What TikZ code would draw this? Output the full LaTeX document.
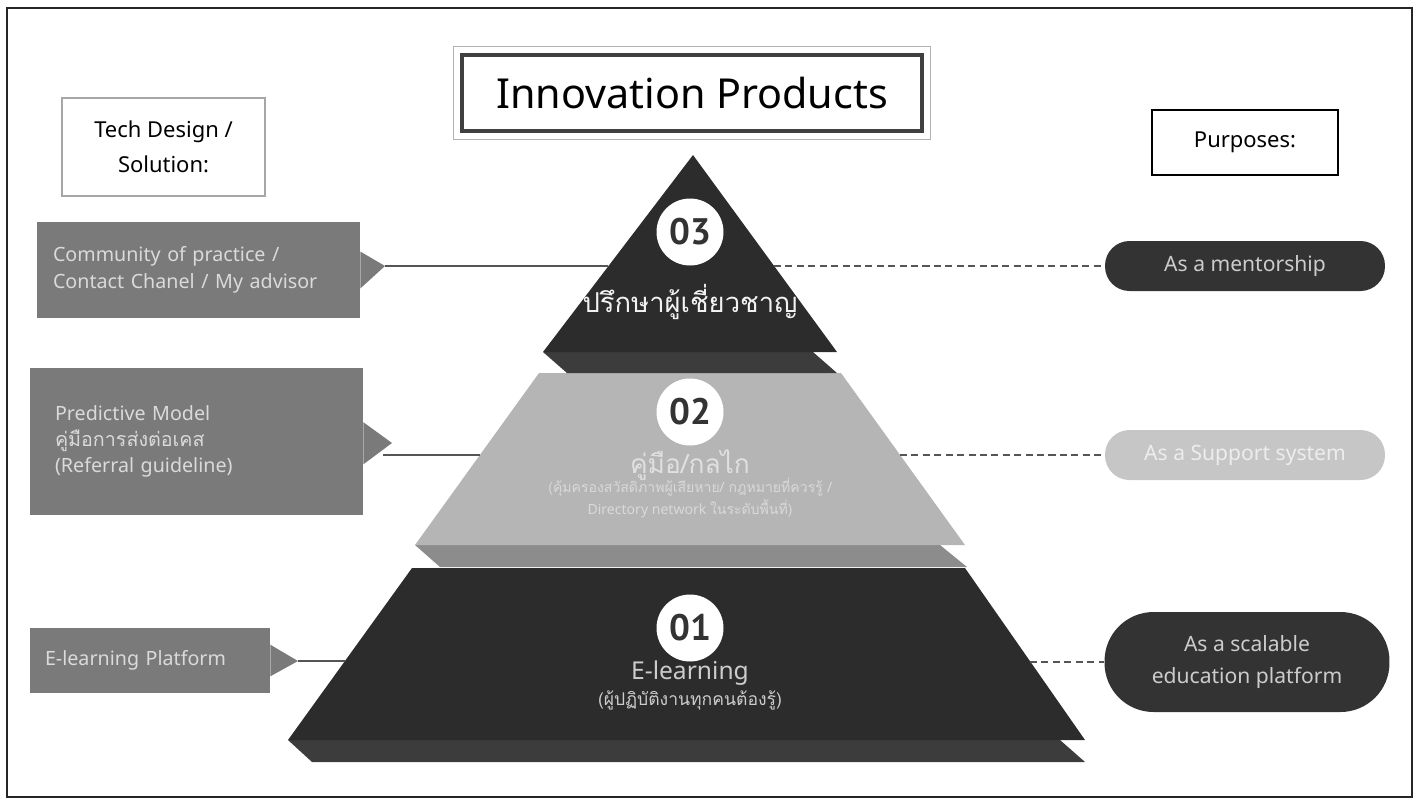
\documentclass[tikz,border=0pt]{standalone}
\usepackage{fontspec}
\setmainfont{Noto Sans}
\newfontfamily\thaifont[Script=Thai]{Loma}
\newfontfamily\numfont{PT Sans}
\usepackage{xcolor}
\usepackage{tikz}
\usetikzlibrary{positioning}

\definecolor{tierdark}{HTML}{2C2C2C}
\definecolor{slabdark}{HTML}{3C3C3C}
\definecolor{tierlight}{HTML}{B5B5B5}
\definecolor{slablight}{HTML}{8C8C8C}
\definecolor{boxgray}{HTML}{7A7A7A}
\definecolor{boxtext}{HTML}{DADADA}
\definecolor{pilldark}{HTML}{333333}
\definecolor{pilllight}{HTML}{C6C6C6}
\definecolor{numtext}{HTML}{333333}
\definecolor{linegray}{HTML}{555555}

\begin{document}
\begin{tikzpicture}[
    x=0.02cm, y=-0.02cm,
    font=\fontsize{11.2}{15.3}\selectfont,
    sidebox/.style={fill=boxgray, text=boxtext, align=left, inner ysep=0pt},
    pill/.style={rounded corners=0.49cm, minimum width=5.6cm, minimum height=1cm, align=center, font=\fontsize{12}{18}\selectfont},
    headbox/.style={draw, line width=1.6pt, align=center, font=\fontsize{12.5}{20}\selectfont},
    numcircle/.style={circle, fill=white, text=numtext, minimum size=1.34cm, inner sep=0pt, font=\numfont\bfseries\fontsize{21}{21}\selectfont},
    tierlabel/.style={align=center, inner sep=0pt},
    link/.style={line width=0.8pt, linegray},
    dashlink/.style={link, dashed, dash pattern=on 4pt off 2.5pt}
]
\useasboundingbox (0,0) rectangle (1420,802);
\draw[line width=1pt, black!85] (7,8) rectangle (1412,797);

% Headings
\node[draw=black!75, line width=2.2pt, minimum width=9.2cm, minimum height=1.52cm, font=\fontsize{23.5}{28}\selectfont] (title) at (692,93) {Innovation Products};
\draw[gray!60, line width=0.6pt] ([shift={(-3.5pt,-3.5pt)}]title.south west) rectangle ([shift={(3.5pt,3.5pt)}]title.north east);
\node[headbox, draw=gray!70, minimum width=4.06cm, minimum height=1.96cm] (tech) at (163.5,147) {Tech Design /\\Solution:};
\node[headbox, draw=black, minimum width=3.72cm, minimum height=1.3cm] (purposes) at (1245,142.5) {Purposes:};

% Pyramid, bottom tier first
\fill[slabdark] (288,740) -- (1060,740) -- (1085,762) -- (312,762) -- cycle;
\fill[tierdark] (412,568) -- (965,568) -- (1085,740) -- (288,740) -- cycle;
\fill[slablight] (415,545) -- (940,545) -- (967,567) -- (440,567) -- cycle;
\fill[tierlight] (539,373) -- (841,373) -- (965,545) -- (415,545) -- cycle;
\fill[slabdark] (543,352) -- (813,352) -- (837,373) -- (567,373) -- cycle;
\fill[tierdark] (693,155) -- (837,352) -- (543,352) -- cycle;

% Tier numbers and labels
\node[numcircle] (num3) at (690,232) {03};
\node[tierlabel, text=white!95!black, font=\thaifont\fontsize{15.6}{18}\selectfont] (label3) at (690,302) {ปรึกษาผู้เชี่ยวชาญ};
\node[numcircle] (num2) at (690,412) {02};
\node[tierlabel, text=white!88!black, font=\thaifont\fontsize{15}{18}\selectfont] (label2) at (690,465) {คู่มือ/กลไก};
\node[tierlabel, text=white!85!black, font=\fontsize{8}{12.5}\selectfont] (note2) at (690,498) {{\thaifont (คุ้มครองสวัสดิภาพผู้เสียหาย/ กฎหมายที่ควรรู้ /}\\Directory network {\thaifont ในระดับพื้นที่)}};
\node[numcircle] (num1) at (690,628) {01};
\node[tierlabel, text=white!80!black, font=\fontsize{14}{16}\selectfont] (label1) at (690,673) {E-learning};
\node[tierlabel, text=white!80!black, font=\thaifont\fontsize{10}{12}\selectfont] (note1) at (690,700) {(ผู้ปฏิบัติงานทุกคนต้องรู้)};

% Points on the pyramid edges
\coordinate (t3-left) at (608,266);
\coordinate (t3-right) at (774,266);
\coordinate (t2-left) at (480,455);
\coordinate (t2-right) at (900,455);
\coordinate (t1-left) at (345,661);
\coordinate (t1-right) at (1030,662);

% Tech design side
\node[sidebox, minimum width=6.46cm, minimum height=1.92cm, inner xsep=0.32cm, text width=5.82cm] (community) at (198.5,270) {Community of practice /\\Contact Chanel / My advisor};
\coordinate (community-tip) at (385,266);
\fill[boxgray] ([yshift=10.5pt]community.east) -- (community-tip) -- ([yshift=-10.5pt]community.east) -- cycle;
\draw[link] (community-tip) -- (t3-left);

\node[sidebox, minimum width=6.66cm, minimum height=2.94cm, inner xsep=0.5cm, text width=5.66cm, font=\fontsize{11.2}{14.7}\selectfont] (predictive) at (196.5,441.5) {Predictive Model\\{\thaifont คู่มือการส่งต่อเคส}\\(Referral guideline)\\[6pt]};
\coordinate (predictive-tip) at (392,443);
\coordinate (predictive-out) at (383,455);
\fill[boxgray] ([yshift=11pt]predictive.east) -- (predictive-tip) -- ([yshift=-13pt]predictive.east) -- cycle;
\draw[link] (predictive-out) -- (t2-left);

\node[sidebox, minimum width=4.8cm, minimum height=1.3cm, inner xsep=0.3cm, text width=4.2cm] (platform) at (150,660.5) {E-learning Platform};
\coordinate (platform-tip) at (298,661);
\fill[boxgray] ([yshift=9pt]platform.east) -- (platform-tip) -- ([yshift=-9pt]platform.east) -- cycle;
\draw[link] (platform-tip) -- (t1-left);

% Purposes side
\node[pill, fill=pilldark, text=white!80!black] (mentor) at (1245,266) {As a mentorship};
\node[pill, fill=pilllight, text=white!93!black] (support) at (1245,455) {As a Support system};
\node[pill, fill=pilldark, text=white!80!black, minimum width=5.7cm, minimum height=2cm, rounded corners=0.98cm] (scalable) at (1247,662) {As a scalable\\education platform};

\draw[dashlink] (t3-right) -- (mentor.west);
\draw[dashlink] (t2-right) -- (support.west);
\draw[dashlink] (t1-right) -- (scalable.west);
\end{tikzpicture}
\end{document}
